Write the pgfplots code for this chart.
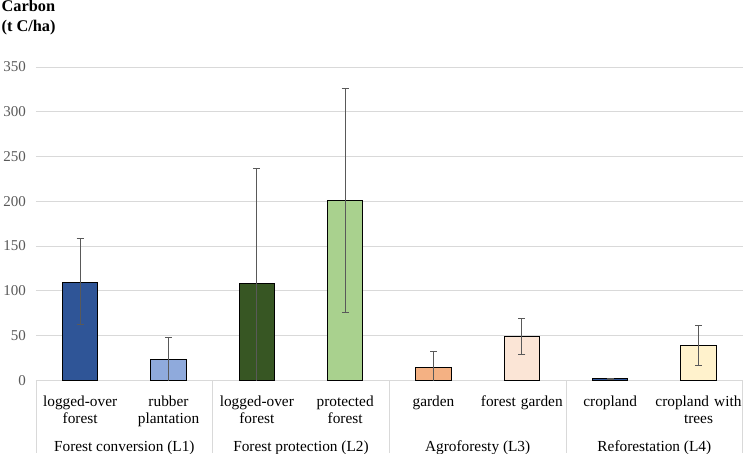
\documentclass[border=0pt]{standalone}
\usepackage{fontspec}
\setmainfont{Liberation Serif}
\usepackage{pgfplots}
\pgfplotsset{compat=1.18}

\definecolor{tickgray}{HTML}{595959}
\definecolor{gridgray}{HTML}{D9D9D9}
\definecolor{errgray}{HTML}{595959}
\definecolor{cA}{HTML}{2F5597}
\definecolor{cB}{HTML}{8FAADC}
\definecolor{cC}{HTML}{375623}
\definecolor{cD}{HTML}{A9D18E}
\definecolor{cE}{HTML}{F4B183}
\definecolor{cF}{HTML}{FBE5D6}
\definecolor{cG}{HTML}{2F5597}
\definecolor{cH}{HTML}{FFF2CC}

\pgfplotsset{
  carbonbar/.style={
    fill=#1, draw=black, line width=0.5pt, bar shift=0pt,
    error bars/.cd, y dir=both, y explicit,
    error bar style={errgray, line width=0.7pt},
    error mark options={errgray, rotate=90, mark size=2.6pt, line width=0.7pt}
  }
}

\begin{document}
\begin{tikzpicture}
\begin{axis}[
  at={(0,0)}, anchor=south west,
  scale only axis,
  width=530pt, height=235pt,
  ybar, bar width=0.4,
  xmin=-0.5, xmax=7.5,
  ymin=0, ymax=350,
  ytick={0,50,...,350},
  xtick={0,...,7},
  xticklabels={{logged-over\\forest},{rubber\\plantation},{logged-over\\forest},{protected\\forest},
               {garden},{forest garden},{cropland},{cropland with\\trees}},
  xticklabel style={text width=76pt, align=center, anchor=north, yshift=-3.5pt,
                    font=\fontsize{11.5}{12.75}\selectfont},
  yticklabel style={tickgray, font=\fontsize{11.25}{13}\selectfont, xshift=-4pt},
  /pgf/number format/assume math mode=true,
  ymajorgrids,
  major grid style={gridgray, line width=0.7pt},
  axis line style={draw=none},
  tick style={draw=none},
]
\addplot+[carbonbar=cA] coordinates {(0,110) +- (0,48)};
\addplot+[carbonbar=cB] coordinates {(1,23) +- (0,25)};
\addplot+[carbonbar=cC] coordinates {(2,108) +- (0,129)};
\addplot+[carbonbar=cD] coordinates {(3,201) +- (0,125)};
\addplot+[carbonbar=cE] coordinates {(4,15) +- (0,17)};
\addplot+[carbonbar=cF] coordinates {(5,49) +- (0,20)};
\addplot+[carbonbar=cG] coordinates {(6,2) +- (0,0.5)};
\addplot+[carbonbar=cH] coordinates {(7,39) +- (0,22)};
\end{axis}

% category group separators and names
\foreach \x in {0,132.5,265,397.5,530}
  \draw[gridgray, line width=0.7pt] (\x pt,0) -- (\x pt,-54.75pt);
\foreach \x/\t in {66.25/{Forest conversion (L1)},198.75/{Forest protection (L2)},
                   331.25/{Agroforesty (L3)},463.75/{Reforestation (L4)}}
  \node[anchor=base, font=\fontsize{11.5}{13}\selectfont] at (\x pt,-53.5pt) {\t};

\node[anchor=north west, align=left, inner sep=0pt, font=\bfseries\fontsize{12.25}{14.5}\selectfont]
  at (-26pt,285pt) {Carbon\\(t C/ha)};

\pgfresetboundingbox
\path[use as bounding box] (-27pt,-54.75pt) rectangle (531pt,285.25pt);
\end{tikzpicture}
\end{document}
